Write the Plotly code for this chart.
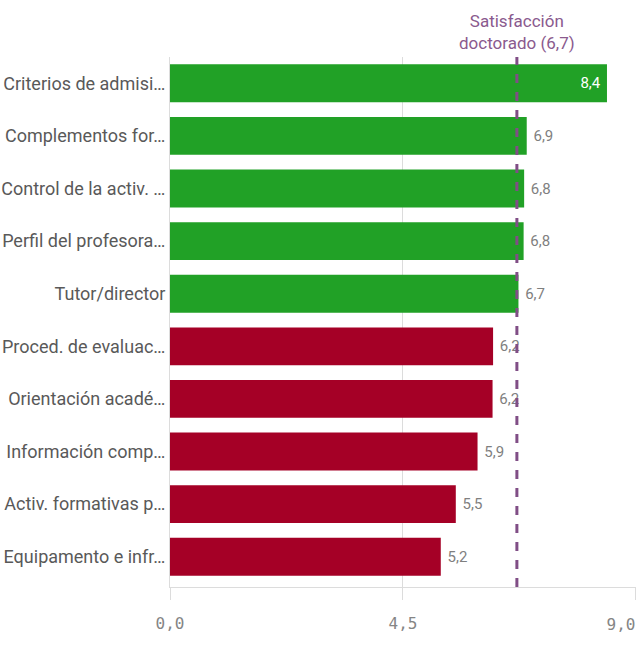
import plotly.graph_objects as go

categories = [
    "Criterios de admisi…",
    "Complementos for…",
    "Control de la activ. …",
    "Perfil del profesora…",
    "Tutor/director",
    "Proced. de evaluac…",
    "Orientación acadé…",
    "Información comp…",
    "Activ. formativas p…",
    "Equipamento e infr…",
]
values = [8.44, 6.89, 6.84, 6.83, 6.73, 6.24, 6.23, 5.94, 5.52, 5.23]
reference_value = 6.7
reference_label = "Satisfacción<br>doctorado (6,7)"
tick_values = [0, 4.5, 9.0]
tick_labels = ["0,0", "4,5", "9,0"]
x_max = 9.0

GREEN = "#21A126"
RED = "#A50026"
colors = [GREEN if v >= reference_value else RED for v in values]
text_pos = ["inside" if v > 8 else "outside" for v in values]
text_colors = ["#FFFFFF" if v > 8 else "#7F7F7F" for v in values]

fig = go.Figure(
    go.Bar(
        x=values,
        y=categories,
        orientation="h",
        marker=dict(color=colors, line=dict(width=0)),
        texttemplate="\u00a0%{x:.1f}\u00a0",
        textposition=text_pos,
        insidetextanchor="end",
        textfont=dict(color=text_colors, size=15, family="Roboto"),
        cliponaxis=False,
        width=0.72,
        hoverinfo="skip",
    )
)
# invisible helper trace so the secondary axis (last tick label) is drawn
fig.add_trace(go.Scatter(x=[x_max], y=[categories[-1]], xaxis="x2", mode="markers",
                         marker=dict(opacity=0), hoverinfo="skip", showlegend=False))

fig.add_shape(
    type="line",
    xref="x", yref="paper",
    x0=reference_value, x1=reference_value, y0=0, y1=1,
    line=dict(color="#804E86", width=3, dash="dash"),
    layer="above",
)
fig.add_annotation(
    x=reference_value, xref="x", y=1, yref="paper",
    yanchor="bottom", yshift=2,
    text=reference_label, showarrow=False,
    font=dict(color="#8A5A8E", size=17, family="Roboto"),
)

tick_font = dict(family="DejaVu Sans Mono", size=16, color="#858585")

fig.update_layout(
    width=644, height=645,
    margin=dict(l=170, r=8, t=57, b=58),
    paper_bgcolor="white", plot_bgcolor="white",
    separators=",.",
    showlegend=False,
    font=dict(family="Roboto", color="#595959"),
    xaxis=dict(
        range=[0, x_max + 0.0005],
        tickvals=tick_values, ticktext=tick_labels[:-1] + [""],
        showgrid=True, gridcolor="#DCDCDC", gridwidth=1,
        showline=True, linecolor="#DCDCDC", linewidth=1,
        ticks="outside", ticklen=12, tickcolor="#DCDCDC",
        ticklabelstandoff=10,
        tickfont=tick_font,
        zeroline=False, automargin=False,
    ),
    xaxis2=dict(
        overlaying="x", side="bottom", anchor="y",
        range=[0, x_max + 0.0005],
        tickvals=[tick_values[-1]], ticktext=[tick_labels[-1]],
        ticklabelposition="outside left",
        ticks="outside", ticklen=12, tickcolor="#DCDCDC",
        ticklabelstandoff=23,
        tickfont=tick_font,
        showgrid=False, showline=False, zeroline=False, automargin=False,
    ),
    yaxis=dict(
        autorange="reversed",
        showline=True, linecolor="#DCDCDC", linewidth=1,
        ticks="", ticklabelstandoff=0,
        tickfont=dict(family="Roboto", size=18, color="#595959"),
        showgrid=False, automargin=False,
    ),
)

fig.write_html(
    "out.html",
    config={"displayModeBar": False},
    post_script="document.body.style.margin='0';document.body.style.overflow='hidden';",
)
